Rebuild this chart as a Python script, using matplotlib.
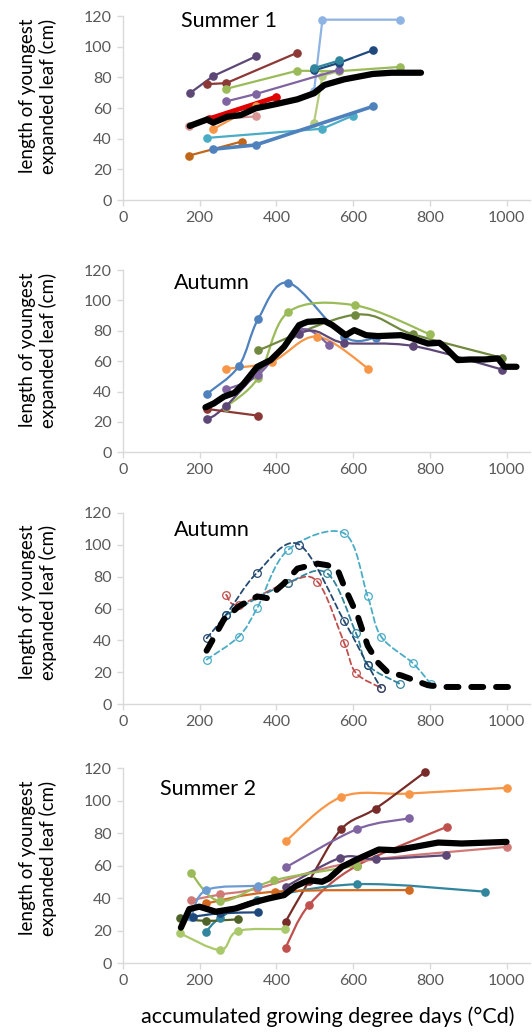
import numpy as np
import matplotlib
matplotlib.use("Agg")
import matplotlib.pyplot as plt
from matplotlib.path import Path
from matplotlib.patches import PathPatch

plt.rcParams["font.family"] = ["Lato", "DejaVu Sans"]

# ---------------- Summer 1 ----------------
s1_dkpurple_x = [174, 235, 346]
s1_dkpurple_y = [69.6, 80.8, 93.6]
s1_brown_x = [220, 269, 454]
s1_brown_y = [75.6, 76.2, 96.0]
s1_green_x = [269, 454, 563, 722]
s1_green_y = [72.5, 84.3, 84.0, 86.8]
s1_ltgreen_x = [498, 520, 563]
s1_ltgreen_y = [50.5, 81.0, 84.0]
s1_purple_x = [269, 346, 564]
s1_purple_y = [64.3, 69.1, 85.0]
s1_teal_x = [498, 564]
s1_teal_y = [86.0, 91.0]
s1_navy_x = [498, 564, 651]
s1_navy_y = [84.5, 89.5, 97.6]
s1_ltblue_x = [498, 520, 722]
s1_ltblue_y = [70.8, 117.6, 117.6]
s1_red_x = [225, 398]
s1_red_y = [53.0, 67.0]
s1_orange_x = [235, 346]
s1_orange_y = [46.2, 61.4]
s1_pink_x = [173, 235, 346]
s1_pink_y = [48.4, 52.7, 54.5]
s1_rust_x = [173, 309]
s1_rust_y = [29.0, 38.1]
s1_blue_x = [235, 346, 651]
s1_blue_y = [33.1, 35.9, 61.0]
s1_aqua_x = [220, 520, 599]
s1_aqua_y = [40.5, 46.5, 55.0]
s1_mean_x = [174, 220, 235, 272, 307, 346, 400, 455, 498, 525, 577, 651, 700, 777]
s1_mean_y = [48.3, 52.6, 50.4, 54.3, 55.4, 59.8, 62.6, 65.7, 69.6, 75.0, 78.7, 82.2, 83.0, 83.0]

# ---------------- Autumn ----------------
a1_blue_x = [220, 302, 353, 431, 577, 660]
a1_blue_y = [38.7, 56.7, 88.0, 111.6, 76.0, 75.5]
a1_green_x = [269, 353, 431, 606, 800]
a1_green_y = [30.0, 49.2, 92.3, 96.7, 77.7]
a1_olive_x = [353, 606, 756, 988]
a1_olive_y = [67.2, 90.6, 77.7, 62.2]
a1_orange_x = [268, 388, 505, 640]
a1_orange_y = [54.9, 59.7, 76.2, 55.1]
a1_dkpurple_x = [220, 269, 460, 577, 756, 988]
a1_dkpurple_y = [22.0, 30.6, 78.0, 72.0, 70.0, 54.5]
a1_purple_x = [269, 353, 460, 537]
a1_purple_y = [41.4, 51.0, 80.5, 70.9]
a1_dkred_x = [220, 353]
a1_dkred_y = [28.5, 24.1]
a1_mean_x = [215, 237, 263, 291, 315, 350, 385, 420, 459, 481, 525, 546, 581, 603,
             634, 664, 725, 756, 795, 825, 843, 873, 904, 943, 978, 995, 1026]
a1_mean_y = [29.6, 32.2, 36.6, 39.2, 45.3, 56.3, 60.7, 69.4, 83.7, 85.9, 86.5, 83.7, 77.1, 80.4,
             77.1, 76.5, 77.1, 74.9, 71.6, 72.1, 68.3, 60.7, 61.1, 61.1, 61.8, 56.3, 56.3]

# ---------------- Autumn (dashed) ----------------
a2_cyan_x = [218, 302, 350, 429, 577, 638, 673, 756, 803]
a2_cyan_y = [27.9, 42.4, 60.3, 96.5, 107.2, 67.6, 42.4, 25.6, 12.4]
a2_red_x = [269, 302, 429, 507, 577, 607, 673]
a2_red_y = [68.6, 62.4, 76.2, 76.9, 38.2, 19.6, 10.1]
a2_navy_x = [218, 269, 350, 459, 577, 638, 673]
a2_navy_y = [41.3, 56.2, 82.6, 100.2, 52.0, 24.6, 10.0]
a2_teal_x = [269, 429, 533, 607, 638, 721]
a2_teal_y = [56.0, 76.0, 82.0, 44.8, 24.6, 12.8]
a2_mean_x = [218, 237, 263, 302, 350, 376, 420, 455, 507, 533, 560, 577, 612, 638,
             664, 690, 725, 760, 795, 838, 1021]
a2_mean_y = [33.5, 41.7, 53.1, 61.4, 67.6, 66.5, 75.8, 85.1, 88.2, 87.2, 84.1, 73.8, 55.2, 36.6,
             26.2, 20.0, 18.0, 14.9, 11.8, 10.7, 10.7]

# ---------------- Summer 2 ----------------
s2_orange_x = [424, 569, 745, 1000]
s2_orange_y = [75.0, 102.2, 104.3, 107.8]
s2_brown_x = [424, 485, 569, 659, 788]
s2_brown_y = [25.6, 50.5, 82.4, 95.1, 117.6]
s2_purple_x = [424, 610, 745]
s2_purple_y = [58.9, 82.4, 89.0]
s2_red_x = [424, 485, 610, 844]
s2_red_y = [9.6, 35.8, 60.0, 83.8]
s2_pink_x = [178, 254, 350, 600, 1000]
s2_pink_y = [38.8, 42.3, 46.0, 62.0, 71.5]
s2_dkpurple_x = [424, 567, 660, 843]
s2_dkpurple_y = [47.0, 64.8, 64.0, 66.4]
s2_teal_x = [217, 254, 350, 610, 944]
s2_teal_y = [19.5, 28.0, 39.0, 48.6, 44.0]
s2_rust_x = [217, 396, 745]
s2_rust_y = [36.8, 44.0, 45.0]
s2_green_x = [178, 254, 394, 610]
s2_green_y = [55.2, 38.2, 51.0, 60.0]
s2_palegreen_x = [149, 254, 299, 423]
s2_palegreen_y = [18.4, 8.2, 19.8, 21.0]
s2_olive_x = [149, 217, 299]
s2_olive_y = [27.6, 26.1, 27.0]
s2_blue_x = [178, 217, 351]
s2_blue_y = [28.6, 45.0, 47.6]
s2_navy_x = [182, 254, 351]
s2_navy_y = [28.6, 30.7, 31.3]
s2_mean_x = [151, 173, 199, 242, 294, 346, 381, 420, 450, 485, 519, 537, 571, 615,
             667, 710, 762, 822, 883, 1000]
s2_mean_y = [21.9, 33.3, 34.8, 31.7, 33.7, 37.8, 39.9, 41.9, 47.4, 51.1, 50.1, 52.1, 59.3, 64.4,
             69.9, 69.5, 71.6, 74.2, 73.6, 74.6]

x_ticks = [0, 200, 400, 600, 800, 1000]
y_ticks = [0, 20, 40, 60, 80, 100, 120]
panel_titles = ["Summer 1", "Autumn", "Autumn", "Summer 2"]

BLUE, RED, GREEN, PURPLE, AQUA, ORANGE = "#4F81BD", "#C0504D", "#9BBB59", "#8064A2", "#4BACC6", "#F79646"
DKRED, OLIVE, DKPURPLE, TEAL, NAVY = "#8C3836", "#71893F", "#5C4776", "#31859C", "#1F497D"
LTBLUE, PINK, LTGREEN, RUST = "#8EB4E3", "#D99694", "#B5CC7E", "#C0661A"

W, H = 532, 1032
fig = plt.figure(figsize=(W / 100, H / 100), dpi=100)

left_px, right_px, xscale = 123, 530, 0.3835
panels_px = [(16, 200), (270, 452.3), (513, 704), (768, 963.3)]
ylabel_centers = [96, 350, 602, 858]


def smooth_path(x, y):
    pts = np.column_stack([x, y]).astype(float)
    n = len(pts)
    verts = [pts[0]]
    codes = [Path.MOVETO]
    for i in range(n - 1):
        p0 = pts[i - 1] if i > 0 else pts[i]
        p1, p2 = pts[i], pts[i + 1]
        p3 = pts[i + 2] if i + 2 < n else pts[i + 1]
        verts += [p1 + (p2 - p0) / 6, p2 - (p3 - p1) / 6, p2]
        codes += [Path.CURVE4] * 3
    return Path(verts, codes)


def straight(ax, x, y, color, lw=1.6, ms=5.2):
    ax.plot(x, y, color=color, lw=lw, marker="o", ms=ms, mec=color, mfc=color,
            solid_capstyle="round", solid_joinstyle="round")


def smooth(ax, x, y, color, lw=1.6, ms=5.2, dashed=False):
    ls = (0, (3.2, 2.0)) if dashed else "-"
    ax.add_patch(PathPatch(smooth_path(x, y), fill=False, edgecolor=color, lw=lw, linestyle=ls,
                           capstyle="round"))
    if dashed:
        ax.plot(x, y, ls="none", marker="o", ms=5.5, mfc="none", mec=color, mew=0.9)
    else:
        ax.plot(x, y, ls="none", marker="o", ms=ms, mfc=color, mec=color)


axes = []
for i, (top, bot) in enumerate(panels_px):
    ax = fig.add_axes([left_px / W, 1 - bot / H, (right_px - left_px) / W, (bot - top) / H])
    ax.set_xlim(0, (right_px - left_px) / xscale)
    ax.set_ylim(0, 120)
    ax.set_xticks(x_ticks)
    ax.set_yticks(y_ticks)
    for s in ["top", "right"]:
        ax.spines[s].set_visible(False)
    for s in ["left", "bottom"]:
        ax.spines[s].set_color("#D9D9D9")
        ax.spines[s].set_linewidth(1.0)
    ax.tick_params(direction="out", length=4, width=1, color="#D9D9D9",
                   labelcolor="#595959", labelsize=11.5, pad=4)
    ax.patch.set_alpha(0)
    fig.text(38 / W, 1 - ylabel_centers[i] / H, "length of youngest\nexpanded leaf (cm)",
             rotation=90, ha="center", va="center", multialignment="center",
             fontsize=13.5, linespacing=1.15, color="#000000")
    axes.append(ax)

ax1, ax2, ax3, ax4 = axes

# Summer 1
straight(ax1, s1_ltblue_x, s1_ltblue_y, LTBLUE)
straight(ax1, s1_dkpurple_x, s1_dkpurple_y, DKPURPLE)
straight(ax1, s1_brown_x, s1_brown_y, DKRED)
straight(ax1, s1_green_x, s1_green_y, GREEN)
straight(ax1, s1_ltgreen_x, s1_ltgreen_y, LTGREEN)
straight(ax1, s1_purple_x, s1_purple_y, PURPLE)
straight(ax1, s1_navy_x, s1_navy_y, NAVY)
straight(ax1, s1_teal_x, s1_teal_y, TEAL)
straight(ax1, s1_pink_x, s1_pink_y, PINK)
straight(ax1, s1_red_x, s1_red_y, "#E00000", lw=3.5)
straight(ax1, s1_orange_x, s1_orange_y, ORANGE)
straight(ax1, s1_rust_x, s1_rust_y, RUST)
straight(ax1, s1_aqua_x, s1_aqua_y, AQUA)
straight(ax1, s1_blue_x, s1_blue_y, BLUE, lw=2.6)
ax1.plot(s1_mean_x, s1_mean_y, color="black", lw=4.5, solid_capstyle="round", solid_joinstyle="round")

# Autumn
smooth(ax2, a1_blue_x, a1_blue_y, BLUE)
smooth(ax2, a1_green_x, a1_green_y, GREEN)
smooth(ax2, a1_olive_x, a1_olive_y, OLIVE)
smooth(ax2, a1_orange_x, a1_orange_y, ORANGE)
smooth(ax2, a1_purple_x, a1_purple_y, PURPLE)
smooth(ax2, a1_dkpurple_x, a1_dkpurple_y, DKPURPLE)
smooth(ax2, a1_dkred_x, a1_dkred_y, DKRED)
ax2.plot(a1_mean_x, a1_mean_y, color="black", lw=4.5, solid_capstyle="round", solid_joinstyle="round")

# Autumn dashed
smooth(ax3, a2_cyan_x, a2_cyan_y, AQUA, lw=1.3, dashed=True)
smooth(ax3, a2_red_x, a2_red_y, RED, lw=1.3, dashed=True)
smooth(ax3, a2_teal_x, a2_teal_y, TEAL, lw=1.3, dashed=True)
smooth(ax3, a2_navy_x, a2_navy_y, "#254A72", lw=1.3, dashed=True)
ax3.plot(a2_mean_x, a2_mean_y, color="black", lw=4.3, dashes=(2.0, 2.15), dash_capstyle="round")

# Summer 2
smooth(ax4, s2_orange_x, s2_orange_y, ORANGE)
smooth(ax4, s2_brown_x, s2_brown_y, "#772C2A")
smooth(ax4, s2_purple_x, s2_purple_y, PURPLE)
smooth(ax4, s2_red_x, s2_red_y, RED)
smooth(ax4, s2_pink_x, s2_pink_y, "#D07A78")
smooth(ax4, s2_dkpurple_x, s2_dkpurple_y, DKPURPLE)
smooth(ax4, s2_teal_x, s2_teal_y, TEAL)
smooth(ax4, s2_rust_x, s2_rust_y, "#D2691E")
smooth(ax4, s2_green_x, s2_green_y, GREEN)
smooth(ax4, s2_palegreen_x, s2_palegreen_y, "#A9C96B")
smooth(ax4, s2_olive_x, s2_olive_y, "#4F6228")
smooth(ax4, s2_blue_x, s2_blue_y, "#6C9BD2")
smooth(ax4, s2_navy_x, s2_navy_y, NAVY)
ax4.plot(s2_mean_x, s2_mean_y, color="black", lw=4.5, solid_capstyle="round", solid_joinstyle="round")

title_pos = [(150, 117), (134, 111.5), (134, 109.5), (97, 107)]
for ax, t, (tx, ty) in zip(axes, panel_titles, title_pos):
    ax.text(tx, ty, t, fontsize=15.5, ha="left", va="center", color="#000000")

fig.text(328 / W, 1 - 1017 / H, "accumulated growing degree days (°Cd)", ha="center", va="center",
         fontsize=15.5, color="#000000")

fig.savefig("out.png", dpi=100)
